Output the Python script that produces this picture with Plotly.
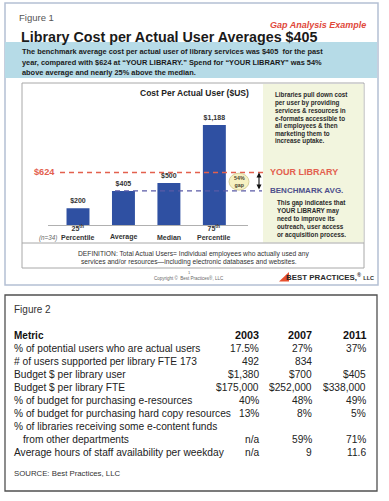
import plotly.graph_objects as go

W, H = 389, 501

# ---------------- data ----------------
categories = ["25th Percentile", "Average", "Median", "75th Percentile"]
category_text = ["25<sup>th</sup><br>Percentile", "Average", "Median", "75<sup>th</sup><br>Percentile"]
costs = [200, 405, 500, 1188]
cost_labels = ["$200", "$405", "$500", "$1,188"]
your_library = 624
benchmark_avg = 405
sample_note = "(n=34)"

table_years = ["2003", "2007", "2011"]
metric_labels = [
    "% of potential users who are actual users",
    "# of users supported per library FTE 173",
    "Budget $ per library user",
    "Budget $ per library FTE",
    "% of budget for purchasing e-resources",
    "% of budget for purchasing hard copy resources",
    "% of libraries receiving some e-content funds",
    "   from other departments",
    "Average hours of staff availability per weekday",
]
values_2003 = ["17.5%", "492", "$1,380", "$175,000", "40%", "13%", "", "n/a", "n/a"]
values_2007 = ["27%", "834", "$700", "$252,000", "48%", "8%", "", "59%", "9"]
values_2011 = ["37%", "", "$405", "$338,000", "49%", "5%", "", "71%", "11.6"]

# ---------------- helpers ----------------
ARIAL = "Liberation Sans, Arial, sans-serif"
TABLE_FONT = "Liberation Sans, Arial, sans-serif"

def px(x):
    return x / W

def py(y):
    return 1 - y / H

annotations = []
shapes = []

def ann(text, x, y, size, color="#222", bold=False, italic=False, xanchor="left",
        family=ARIAL, yanchor="middle"):
    t = text
    if bold:
        t = "<b>" + t + "</b>"
    if italic:
        t = "<i>" + t + "</i>"
    annotations.append(dict(text=t, x=px(x), y=py(y), xref="paper", yref="paper",
                            xanchor=xanchor, yanchor=yanchor, showarrow=False,
                            font=dict(size=size, color=color, family=family)))

def rect(x0, y0, x1, y1, fill=None, line=None, lw=1, layer="below"):
    shapes.append(dict(type="rect", xref="paper", yref="paper",
                       x0=px(x0), x1=px(x1), y0=py(y1), y1=py(y0),
                       fillcolor=fill if fill else "rgba(0,0,0,0)",
                       line=dict(color=line if line else "rgba(0,0,0,0)", width=lw if line else 0),
                       layer=layer))

# ---------------- layout geometry ----------------
Y_BASE_PX, Y_TOP_PX, Y_MAX = 225.0, 115.5, 1300.0
PPU = (Y_BASE_PX - Y_TOP_PX) / Y_MAX   # pixels per $

# ---------------- Figure 1 frame ----------------
rect(5, 3, 378, 285, fill="#ffffff", line="#b4c0d4", lw=1.5)
rect(5, 42, 377, 78, fill="#b6dbe7")
rect(22, 83, 364, 268, fill="#ffffff", line="#a8a8a8", lw=1)
rect(263, 84, 363.5, 242.5, fill="#f2f5de")
shapes.append(dict(type="line", xref="paper", yref="paper", x0=px(22), x1=px(364),
                   y0=py(243), y1=py(243), line=dict(color="#a8a8a8", width=1), layer="below"))

ann("Figure 1", 17, 17, 9.5, color="#555555")
ann("Gap Analysis Example", 368, 25, 9, color="#e0483a", bold=True, italic=True, xanchor="right")
ann("Library Cost per Actual User Averages $405", 19, 37, 14.3, color="#1a1a1a", bold=True)

band_lines = [
    "The benchmark average cost per actual user of library services was $405  for the past",
    "year, compared with $624 at \u201cYOUR LIBRARY.\u201d Spend for \u201cYOUR LIBRARY\u201d was 54%",
    "above average and nearly 25% above the median.",
]
for i, t in enumerate(band_lines):
    ann(t, 20, 52 + i * 10.5, 7.4, color="#1a1a1a", bold=True)

ann("Cost Per Actual User ($US)", 194, 93, 8.5, color="#222", bold=True, xanchor="center")

panel_top = ["Libraries pull down cost", "per user by providing", "services &amp; resources in",
             "e-formats accessible to", "all employees &amp; then", "marketing them to",
             "increase uptake."]
for i, t in enumerate(panel_top):
    ann(t, 273, 95 + i * 7.7, 6.3, color="#2a2a2a", bold=True)

panel_bottom = ["This gap indicates that", "YOUR LIBRARY may", "need to improve its",
                "outreach, user access", "or acquisition process."]
for i, t in enumerate(panel_bottom):
    ann(t, 275, 203 + i * 7.9, 6.3, color="#2a2a2a", bold=True)

ann("DEFINITION: Total Actual Users= Individual employees who actually used any",
    194, 254, 6.7, color="#333", xanchor="center")
ann("services and/or resources\u2014including electronic databases and websites.",
    189, 262, 6.7, color="#333", xanchor="center")

ann("1", 189, 272, 4, color="#666", xanchor="center")
ann("Copyright \u00a9  Best Practices\u00ae, LLC", 189, 277.5, 4.5, color="#666", xanchor="center")

# logo
shapes.append(dict(type="path", xref="paper", yref="paper",
                   path=f"M {px(279)} {py(281.5)} L {px(289)} {py(281.5)} L {px(289)} {py(272)} Z",
                   fillcolor="#e8502e", line=dict(width=0), layer="above"))
ann("BEST PRACTICES,<sup>\u00ae</sup> <span style='font-size:5.5px'>LLC</span>", 376, 277, 7.9,
    color="#2a2a2a", bold=True, xanchor="right")

sample_ann = dict(text="<i>" + sample_note + "</i>", x=px(37), y=py(237.5), xref="paper", yref="paper",
                  showarrow=False, font=dict(size=6.3, color="#666", family=ARIAL))
annotations.append(sample_ann)

# category labels via x axis
for c, t in zip(categories, category_text):
    annotations.append(dict(text="<b>" + t + "</b>", x=c, xref="x", y=py(243), yref="paper",
                            xanchor="center", yanchor="bottom", showarrow=False,
                            font=dict(size=7, color="#333", family=ARIAL)))

# reference lines (data y)
shapes.append(dict(type="line", xref="paper", yref="y", x0=px(60), x1=px(267),
                   y0=your_library, y1=your_library,
                   line=dict(color="#e3604e", width=1.4, dash="5px,4px"), layer="above"))
shapes.append(dict(type="line", xref="paper", yref="y", x0=px(115), x1=px(262),
                   y0=benchmark_avg, y1=benchmark_avg,
                   line=dict(color="#5a5aa6", width=1.4, dash="5px,4px"), layer="above"))

annotations.append(dict(text="<b>$%d</b>" % your_library, x=px(57), xref="paper", y=your_library, yref="y",
                        xanchor="right", yanchor="middle", showarrow=False,
                        font=dict(size=9.2, color="#e3604e", family=ARIAL)))
annotations.append(dict(text="<b>YOUR LIBRARY</b>", x=px(268), xref="paper", y=your_library, yref="y",
                        xanchor="left", yanchor="middle", showarrow=False,
                        font=dict(size=9, color="#e3604e", family=ARIAL)))
annotations.append(dict(text="<b>BENCHMARK AVG.</b>", x=px(268), xref="paper", y=benchmark_avg, yref="y",
                        xanchor="left", yanchor="middle", showarrow=False,
                        font=dict(size=8, color="#4c4f8c", family=ARIAL)))

# gap ellipse + arrow
gap_pct = round((your_library / benchmark_avg - 1) * 100)
mid = (your_library + benchmark_avg) / 2
half_h = 8.5 / PPU
shapes.append(dict(type="circle", xref="paper", yref="y", x0=px(229), x1=px(249),
                   y0=mid - half_h, y1=mid + half_h,
                   fillcolor="#f6f1c2", line=dict(color="#cdc58a", width=0.8), layer="above"))
annotations.append(dict(text="<b>%d%%<br>gap</b>" % gap_pct, x=px(239), xref="paper", y=mid, yref="y",
                        xanchor="center", yanchor="middle", showarrow=False,
                        font=dict(size=5.3, color="#4a4430", family=ARIAL)))
annotations.append(dict(text="", x=px(259), xref="paper", y=your_library, yref="y",
                        ax=0, ay=(your_library - benchmark_avg) * PPU,
                        showarrow=True, arrowside="end+start", arrowhead=2, startarrowhead=2,
                        arrowsize=0.9, startarrowsize=0.9, arrowwidth=1.1, arrowcolor="#111",
                        standoff=0, startstandoff=0))

# ---------------- Figure 2 (table) ----------------
rect(5, 295, 377, 491, fill="#ffffff", line="#505050", lw=1.3)
ann("Figure 2", 12, 309.5, 10, color="#333")

COL_X = [261, 314, 368]
ROW0, PITCH = 335, 13.1
ann("Metric", 12, ROW0, 10, color="#111", bold=True, family=TABLE_FONT)
for cx, yr in zip(COL_X, table_years):
    ann(yr, cx, ROW0, 10.8, color="#111", bold=True, xanchor="right", family=TABLE_FONT)

for i, label in enumerate(metric_labels):
    y = ROW0 + PITCH * (i + 1)
    indent = 9 if label.startswith("   ") else 0
    ann(label.strip(), 12 + indent, y, 10.2, color="#222", family=TABLE_FONT)
    for cx, col in zip(COL_X, (values_2003, values_2007, values_2011)):
        if col[i]:
            ann(col[i], cx, y, 10.2, color="#222", xanchor="right", family=TABLE_FONT)

ann("SOURCE: Best Practices, LLC", 12, 473, 7.8, color="#333", family=TABLE_FONT)

# ---------------- figure ----------------
fig = go.Figure()
fig.add_trace(go.Bar(
    x=categories, y=costs, text=["<b>%s</b>" % s for s in cost_labels],
    textposition="outside", constraintext="none", cliponaxis=False,
    textfont=dict(size=7, color="#333", family=ARIAL),
    marker=dict(color="#2f50a2", line=dict(width=0)),
    hoverinfo="skip",
))

fig.update_layout(
    width=W, height=H,
    margin=dict(l=0, r=0, t=0, b=0),
    paper_bgcolor="#ffffff", plot_bgcolor="rgba(0,0,0,0)",
    showlegend=False,
    bargap=0.495,
    xaxis=dict(domain=[px(48), px(248)], range=[-0.66, 3.74], type="category",
               showline=True, linecolor="#b0b0b0", linewidth=1,
               showgrid=False, zeroline=False, showticklabels=False, ticks=""),
    yaxis=dict(domain=[py(Y_BASE_PX), py(Y_TOP_PX)], range=[0, Y_MAX], visible=False),
    shapes=shapes,
    annotations=annotations,
)

fig.write_html("out.html")
